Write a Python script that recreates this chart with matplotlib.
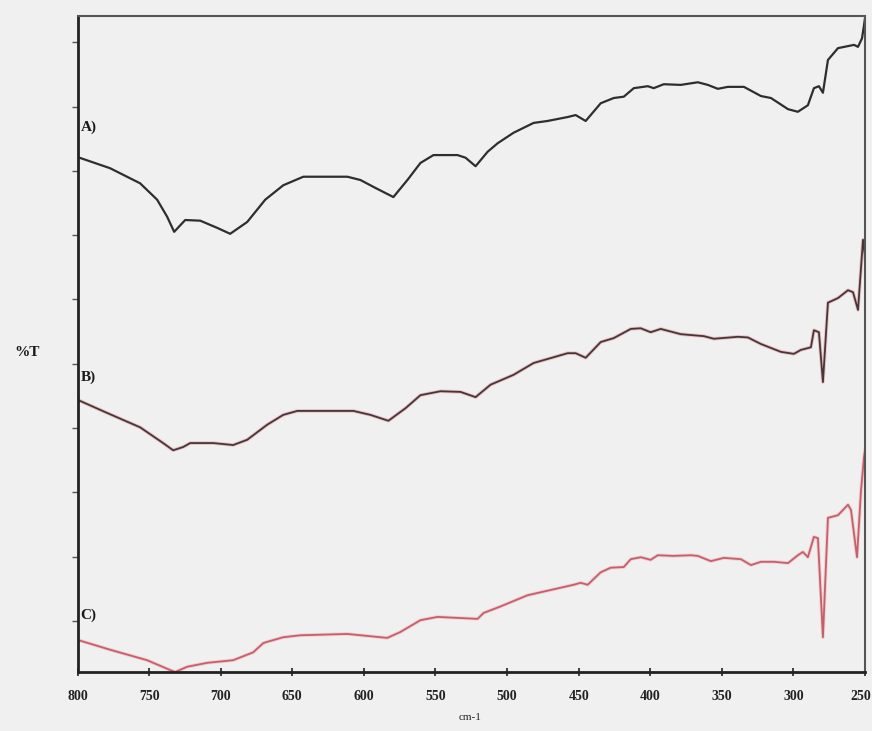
import numpy as np
import matplotlib
matplotlib.use("Agg")
import matplotlib.pyplot as plt
from matplotlib.transforms import ScaledTranslation

# Spectrum A (wavenumber cm-1, %T arbitrary units)
wn_a = [800, 777.3, 756.3, 744.4, 737.4, 732.5, 724.8, 714.3, 702.4, 693.4, 681.5, 668.9, 656.3,
        642.3, 611.5, 602.4, 592, 579.4, 569.6, 560.5, 551.4, 534.6, 529, 522, 513.6, 506.6, 495.5,
        481.5, 471.7, 457.7, 452.1, 445.1, 434.6, 425.5, 418.5, 411.5, 401.7, 397.6, 390.6, 378.7,
        366.8, 359.8, 352.8, 345.8, 334.6, 322.7, 315.7, 303.8, 296.9, 289.9, 285.7, 282.2, 279.4,
        275.9, 268.9, 257.7, 254.9, 252.1, 250.7, 250]
t_a = [78.5, 76.8, 74.5, 72.0, 69.4, 67.1, 68.9, 68.8, 67.7, 66.8, 68.6, 72.0, 74.2,
       75.5, 75.5, 75.0, 73.8, 72.4, 75.0, 77.6, 78.8, 78.8, 78.4, 77.1, 79.3, 80.6, 82.2,
       83.7, 84.0, 84.6, 84.9, 84.0, 86.7, 87.5, 87.7, 89.0, 89.3, 89.0, 89.6, 89.5,
       89.9, 89.5, 88.9, 89.2, 89.2, 87.8, 87.5, 85.8, 85.4, 86.4, 89.0, 89.3, 88.3,
       93.3, 95.1, 95.6, 95.3, 96.6, 98.6, 99.7]

# Spectrum B
wn_b = [800, 779.4, 756.3, 740.2, 733.2, 726.2, 721.3, 705.2, 691.3, 681.5, 667.5, 656.3, 646.5,
        607.3, 595.5, 582.9, 571.0, 560.5, 546.5, 532.5, 522, 511.5, 495.5, 481.5, 457.7, 452.1,
        445.1, 434.6, 425.5, 413.6, 406.7, 399.7, 392.7, 378.7, 362.6, 355.6, 338.8, 331.8, 322.7,
        308.7, 299.7, 294.8, 287.8, 285.7, 282.2, 279.4, 275.9, 268.9, 261.9, 258.4, 254.9, 251.4, 250]
t_b = [41.5, 39.5, 37.3, 34.9, 33.8, 34.3, 34.9, 34.9, 34.6, 35.4, 37.7, 39.2, 39.8,
       39.8, 39.2, 38.3, 40.2, 42.2, 42.8, 42.7, 41.9, 43.8, 45.3, 47.1, 48.6, 48.6,
       47.9, 50.3, 50.9, 52.3, 52.4, 51.8, 52.3, 51.5, 51.2, 50.8, 51.1, 51.0, 50.0,
       48.8, 48.5, 49.1, 49.5, 52.1, 51.8, 44.2, 56.3, 57.0, 58.2, 57.9, 55.2, 65.9, 63.3]

# Spectrum C
wn_c = [800, 777.3, 751.4, 735.3, 731.8, 723.4, 709.4, 691.3, 677.3, 670.3, 667.5, 656.3, 644.4,
        611.5, 597.6, 583.6, 574.5, 560.5, 548.6, 520.6, 516.4, 504.5, 485.7, 469.6, 453.5, 448.6,
        443.7, 434.6, 427.6, 418.5, 413.6, 406.7, 399.7, 394.8, 383.6, 371.7, 366.8, 357.7, 348.6,
        336.7, 329.7, 322.7, 313.6, 303.8, 296.9, 293.4, 289.9, 285.7, 282.9, 279.4, 275.9, 268.9,
        261.9, 259.8, 255.6, 252.8, 250.7, 250]
t_c = [4.9, 3.4, 1.8, 0.3, 0.0, 0.8, 1.4, 1.8, 3.0, 4.4, 4.6, 5.3, 5.6,
       5.8, 5.5, 5.2, 6.1, 7.9, 8.4, 8.1, 9.0, 10.0, 11.7, 12.5, 13.3, 13.6,
       13.3, 15.2, 15.9, 16.0, 17.2, 17.5, 17.1, 17.8, 17.7, 17.8, 17.7, 16.9, 17.4,
       17.2, 16.3, 16.8, 16.8, 16.6, 17.8, 18.3, 17.5, 20.6, 20.4, 5.3, 23.5, 23.9,
       25.5, 24.7, 17.5, 27.7, 32.8, 33.8]

x_ticks = [800, 750, 700, 650, 600, 550, 500, 450, 400, 350, 300, 250]
y_ticks = [7.8, 17.6, 27.4, 37.2, 47.0, 56.8, 66.6, 76.4, 86.2, 96.0]
labels = ["A)", "B)", "C)"]
label_y = [83.1, 45.0, 8.7]

bg = "#f0f0f0"
fig = plt.figure(figsize=(8.72, 7.31), dpi=100, facecolor=bg)
ax = fig.add_axes([0.0889, 0.0807, 0.9031, 0.8974], facecolor=bg)

ax.plot(wn_a, t_a, color="#2e2e2e", lw=1.6)
ax.plot(wn_b, t_b, color="#e6a0a6", lw=2.6, alpha=0.6)
ax.plot(wn_b, t_b, color="#453638", lw=1.3)
ax.plot(wn_c, t_c, color="#f2b8bc", lw=2.6, alpha=0.6)
ax.plot(wn_c, t_c, color="#c4606c", lw=1.3)

ax.set_xlim(800, 250)
ax.set_ylim(0, 100)
ax.set_xticks(x_ticks)
ax.set_xticklabels([str(v) for v in x_ticks], family="Liberation Serif",
                   fontweight="bold", fontsize=10)
ax.set_yticks(y_ticks)
ax.set_yticklabels([])
ax.tick_params(axis="x", direction="inout", length=6, width=1.2, pad=10, colors="#222222")
ax.tick_params(axis="y", direction="out", length=4, width=1.0, colors="#555555")

last = ax.get_xticklabels()[-1]
last.set_ha("right")
last.set_transform(last.get_transform() + ScaledTranslation(6 / 100, 0, fig.dpi_scale_trans))

for side in ["left", "bottom"]:
    ax.spines[side].set_linewidth(2.0)
    ax.spines[side].set_color("#222222")
for side in ["top", "right"]:
    ax.spines[side].set_linewidth(1.5)
    ax.spines[side].set_color("#555555")

for lab, yv in zip(labels, label_y):
    ax.text(798, yv, lab, family="Liberation Serif", fontweight="bold",
            fontsize=11, color="#1a1a1a", ha="left", va="center")

fig.text(0.016, 0.518, "%T", family="Liberation Serif", fontweight="bold",
         fontsize=11, ha="left", va="center", color="#1a1a1a")
fig.text(0.539, 0.012, "cm-1", family="Liberation Serif", fontsize=8,
         ha="center", va="bottom", color="#222222")

fig.savefig("out.png", dpi=100, facecolor=bg)
